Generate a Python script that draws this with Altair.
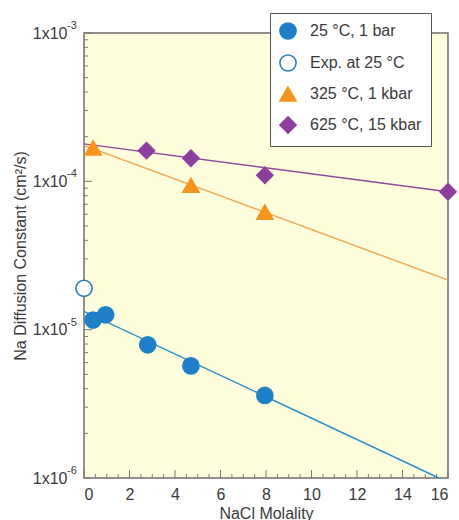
import altair as alt
import pandas as pd

# ---- data ----
series_names = ["25 °C, 1 bar", "Exp. at 25 °C", "325 °C, 1 kbar", "625 °C, 15 kbar"]

m_25 = [0.4, 0.95, 2.8, 4.7, 7.95]
d_25 = [1.16e-5, 1.26e-5, 7.9e-6, 5.7e-6, 3.6e-6]

m_exp = [0.0]
d_exp = [1.9e-5]

m_325 = [0.4, 4.7, 7.95]
d_325 = [1.68e-4, 9.4e-5, 6.2e-5]

m_625 = [2.75, 4.7, 7.95, 16.0]
d_625 = [1.61e-4, 1.43e-4, 1.10e-4, 8.5e-5]

# fitted lines (end points)
fit_25_m = [0.0, 15.6]
fit_25_d = [1.33e-5, 1.0e-6]
fit_325_m = [0.0, 16.0]
fit_325_d = [1.75e-4, 2.16e-5]
fit_625_m = [0.0, 16.0]
fit_625_d = [1.79e-4, 8.5e-5]

x_major = [0, 2, 4, 6, 8, 10, 12, 14, 16]
x_minor = [i * 0.5 for i in range(33) if i % 4 != 0]
y_major = [1e-6, 1e-5, 1e-4, 1e-3]
y_exponents = ["-6", "-5", "-4", "-3"]
y_minor = [k * 10.0 ** e for e in (-6, -5, -4) for k in range(2, 10)]

fills = ["#1f80c9", "#ffffff", "#f7941d", "#8e3f9e"]
strokes = ["#1f80c9", "#2f7fb5", "#f7941d", "#8e3f9e"]
shapes = ["circle", "circle", "triangle-up", "diamond"]
line_colors = ["#2b8fcf", "#f2a44e", "#8c4a9c"]

FONT = "Liberation Sans"
TXT = "#3a3a3a"

# ---- tables ----
pts = pd.DataFrame(
    [{"m": m, "d": d, "s": series_names[0]} for m, d in zip(m_25, d_25)]
    + [{"m": m, "d": d, "s": series_names[1]} for m, d in zip(m_exp, d_exp)]
    + [{"m": m, "d": d, "s": series_names[2]} for m, d in zip(m_325, d_325)]
    + [{"m": m, "d": d, "s": series_names[3]} for m, d in zip(m_625, d_625)]
)
fits = pd.DataFrame(
    [{"m": m, "d": d, "f": "a"} for m, d in zip(fit_25_m, fit_25_d)]
    + [{"m": m, "d": d, "f": "b"} for m, d in zip(fit_325_m, fit_325_d)]
    + [{"m": m, "d": d, "f": "c"} for m, d in zip(fit_625_m, fit_625_d)]
)

xscale = alt.Scale(domain=[0, 16], nice=False, zero=False)
yscale = alt.Scale(type="log", domain=[1e-6, 1e-3], nice=False)

x_axis = alt.Axis(
    values=x_major, tickSize=0, domain=False, grid=False,
    labelFont=FONT, labelFontSize=16, labelColor=TXT, labelPadding=8,
    title="NaCl Molality", titleFont=FONT, titleFontSize=16, titleFontWeight="normal",
    titleColor=TXT, titlePadding=3,
)
y_axis = alt.Axis(
    values=y_major, tickSize=0, domain=False, grid=False, labelExpr="'1x10'",
    labelFont=FONT, labelFontSize=16, labelColor=TXT, labelPadding=17,
    title="Na Diffusion Constant (cm²/s)", titleFont=FONT, titleFontSize=16,
    titleFontWeight="normal", titleColor=TXT, titlePadding=4,
)

lines = alt.Chart(fits).mark_line(strokeWidth=1.4).encode(
    x=alt.X("m:Q", scale=xscale, axis=x_axis),
    y=alt.Y("d:Q", scale=yscale, axis=y_axis),
    color=alt.Color("f:N", scale=alt.Scale(domain=["a", "b", "c"], range=line_colors), legend=None),
)

# superscript exponents of the y tick labels
sup = alt.Chart(pd.DataFrame({"v": y_major, "e": y_exponents})).mark_text(
    align="left", baseline="middle", dy=-7, font=FONT, fontSize=11, color=TXT
).encode(y=alt.Y("v:Q", scale=yscale), x=alt.value(-17), text="e:N")

# inward tick marks
tick_col = "#7a7a7a"
ym = alt.Chart(pd.DataFrame({"v": y_major})).mark_rule(color=tick_col, strokeWidth=1).encode(
    y=alt.Y("v:Q", scale=yscale), x=alt.value(0), x2=alt.value(8))
yn = alt.Chart(pd.DataFrame({"v": y_minor})).mark_rule(color=tick_col, strokeWidth=1).encode(
    y=alt.Y("v:Q", scale=yscale), x=alt.value(0), x2=alt.value(4))
xm = alt.Chart(pd.DataFrame({"v": x_major})).mark_rule(color=tick_col, strokeWidth=1).encode(
    x=alt.X("v:Q", scale=xscale), y=alt.value(445), y2=alt.value(437))
xn = alt.Chart(pd.DataFrame({"v": x_minor})).mark_rule(color=tick_col, strokeWidth=1).encode(
    x=alt.X("v:Q", scale=xscale), y=alt.value(445), y2=alt.value(441))

points = alt.Chart(pts).mark_point(size=260, strokeWidth=1.6, opacity=1).encode(
    x=alt.X("m:Q", scale=xscale),
    y=alt.Y("d:Q", scale=yscale),
    fill=alt.Fill("s:N", scale=alt.Scale(domain=series_names, range=fills), title=None),
    stroke=alt.Stroke("s:N", scale=alt.Scale(domain=series_names, range=strokes), title=None),
    shape=alt.Shape("s:N", scale=alt.Scale(domain=series_names, range=shapes), title=None),
)

chart = (
    alt.layer(ym, yn, xm, xn, lines, sup, points)
    .resolve_scale(color="independent")
    .properties(
        width=364, height=445, autosize="none",
        padding={"left": 84, "top": 33, "right": 11, "bottom": 42},
        background="white",
    )
    .configure_view(fill="#fffedc", stroke="#6e6e6e", strokeWidth=1.5)
    .configure_legend(
        orient="none", legendX=186, legendY=-20,
        fillColor="white", strokeColor="#555", padding=9,
        labelFont=FONT, labelFontSize=16, labelColor=TXT,
        symbolSize=260, symbolStrokeWidth=1.6, rowPadding=8, labelOffset=13,
        symbolOpacity=1,
    )
)

chart.save("out.html", embed_options={"renderer": "svg", "actions": False})
